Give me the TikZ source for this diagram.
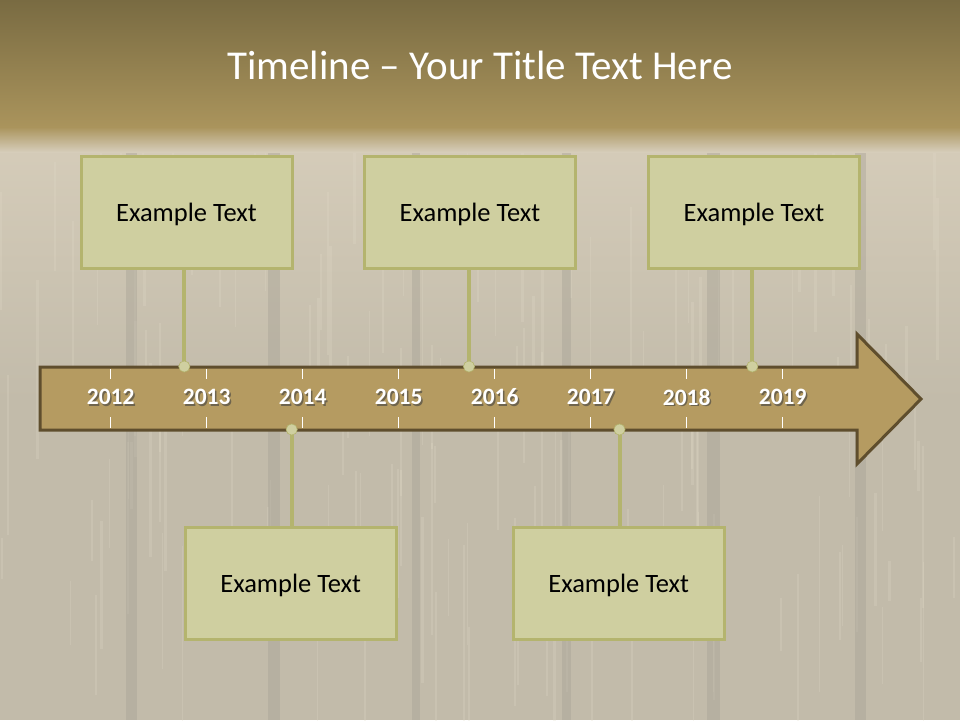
\documentclass[tikz,border=0pt]{standalone}
\usepackage{fontspec}
\setmainfont{Carlito}
\usetikzlibrary{positioning}

\definecolor{headtop}{RGB}{121,107,66}
\definecolor{headbot}{RGB}{170,148,92}
\definecolor{wood}{RGB}{194,187,170}
\definecolor{woodlight}{RGB}{214,205,186}
\definecolor{woodgap}{RGB}{165,160,148}
\definecolor{woodstreak}{RGB}{225,218,200}
\definecolor{boxfill}{RGB}{207,207,160}
\definecolor{boxline}{RGB}{180,180,110}
\definecolor{arrowfill}{RGB}{181,155,97}
\definecolor{arrowline}{RGB}{95,78,45}

\begin{document}
\begin{tikzpicture}[x=1pt, y=-1pt,
		eventbox/.style={draw=boxline, fill=boxfill, line width=3pt, minimum width=211pt, minimum height=112pt, inner sep=0pt, text height=22pt, text depth=4pt, font=\fontsize{26.5}{30}\selectfont},
		stem/.style={draw=boxline, line width=4pt},
		stemdot/.style={circle, fill=boxfill, draw=boxline, line width=0.8pt, minimum size=11pt, inner sep=0pt},
		yearlabel/.style={text=white, font=\fontsize{23.5}{26}\selectfont\bfseries},
		yearshadow/.style={text=black!75, opacity=0.6, font=\fontsize{23.5}{26}\selectfont\bfseries}]
	\useasboundingbox (0,0) rectangle (960,720);
	
	% Фон: доски
	\fill[wood] (0,0) rectangle (960,720);
	\shade[top color=woodlight, bottom color=wood] (0,127) rectangle (960,400);
	\pgfmathsetseed{7}
	\foreach \k in {1,...,140}
		\fill[woodstreak, opacity=0.25] (960*rnd,127+500*rnd) rectangle ++(1+2*rnd,40+160*rnd);
	\foreach \gx/\gw in {126/11, 268/12, 412/8, 562/9, 707/13, 855/11}
		\fill[woodgap, opacity=0.4] (\gx,127) rectangle ++(\gw,593);
	
	% Шапка с заголовком
	\shade[top color=headtop, bottom color=headbot] (0,0) rectangle (960,127);
	\shade[top color=headbot, bottom color=woodlight] (0,127) rectangle (960,152);
	\node[text=white, anchor=base, font=\fontsize{41}{46}\selectfont] (title) at (480,79) {Timeline – Your Title Text Here};
	
	% Стрелка шкалы времени
	\coordinate (A) at (40,367);
	\coordinate (B) at (857,367);
	\coordinate (C) at (857,334);
	\coordinate (D) at (921,399);
	\coordinate (E) at (857,464);
	\coordinate (F) at (857,430);
	\coordinate (G) at (40,430);
	\draw[fill=arrowfill, draw=arrowline, line width=3pt, line join=miter] (A) -- (B) -- (C) -- (D) -- (E) -- (F) -- (G) -- cycle;
	
	% Годы и риски
	\foreach \yr [count=\i from 0] in {2012,2013,2014,2015,2016,2017,2018,2019} {
		\draw[white, line width=1.2pt] (110.7+96*\i,369) -- ++(0,10);
		\draw[white, line width=1.2pt] (110.7+96*\i,417) -- ++(0,11);
		\node[yearshadow] (s\yr) at (112.2+96*\i,398.5) {\yr};
		\node[yearlabel] (y\yr) at (110.7+96*\i,397) {\yr};
	}
	
	% Блоки с текстом
	\node[eventbox] (b1) at (186.5,212) {Example Text};
	\node[eventbox] (b2) at (470,212) {Example Text};
	\node[eventbox] (b3) at (754,212) {Example Text};
	\node[eventbox] (b4) at (290.7,583.5) {Example Text};
	\node[eventbox] (b5) at (618.7,583) {Example Text};
	
	% Точки на стрелке
	\node[stemdot] (d1) at (184.3,366.5) {};
	\node[stemdot] (d2) at (469,366.5) {};
	\node[stemdot] (d3) at (752.3,366.5) {};
	\node[stemdot] (d4) at (291.7,429.5) {};
	\node[stemdot] (d5) at (619.5,429.5) {};
	
	% Соединительные линии
	\draw[stem] (d1) -- (d1 |- b1.south);
	\draw[stem] (d2) -- (d2 |- b2.south);
	\draw[stem] (d3) -- (d3 |- b3.south);
	\draw[stem] (d4) -- (d4 |- b4.north);
	\draw[stem] (d5) -- (d5 |- b5.north);
	
	% Точки поверх линий
	\foreach \d in {d1,d2,d3,d4,d5}
		\fill[boxfill] (\d) circle (5pt);
\end{tikzpicture}
\end{document}
